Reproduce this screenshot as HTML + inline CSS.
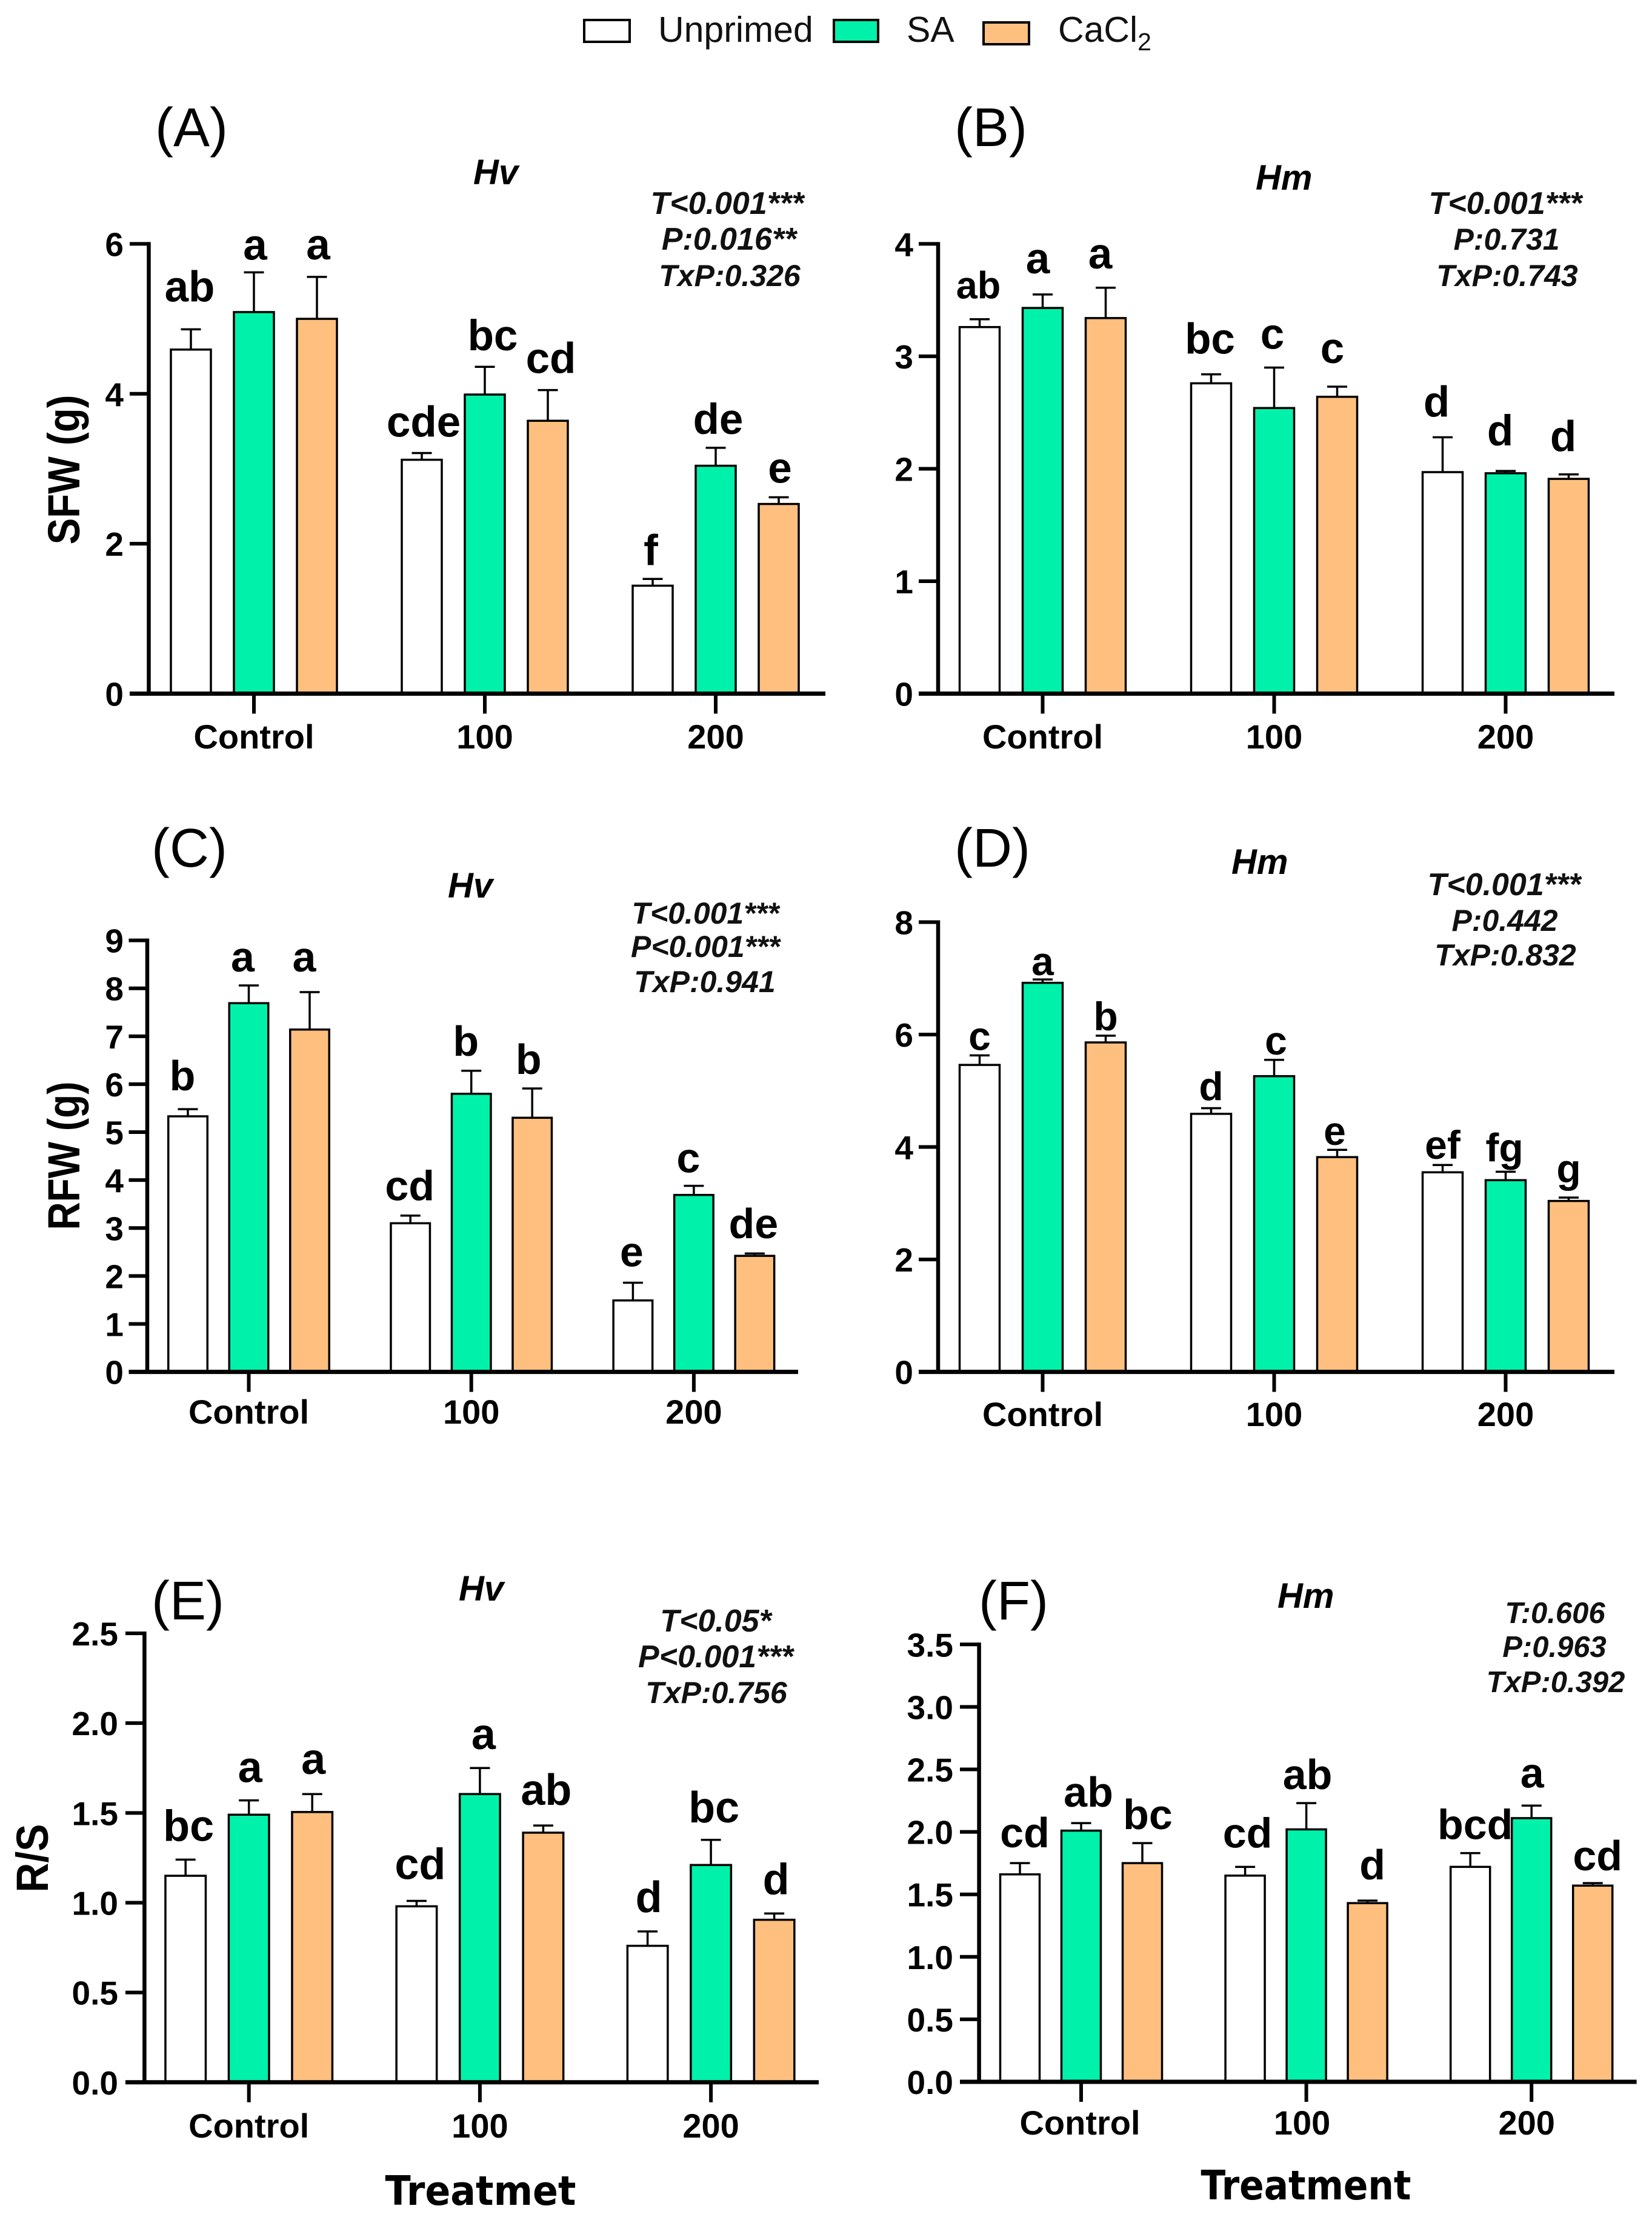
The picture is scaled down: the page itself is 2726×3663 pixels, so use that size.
<!DOCTYPE html>
<html lang="en">
<head>
<meta charset="utf-8">
<title>Shoot and root fresh weight and R/S by treatment and priming</title>
<style>
html,body{margin:0;padding:0;background:#fff;}
svg{display:block;}
text{font-family:"Liberation Sans",Arial,sans-serif;fill:#000;}
.tag{font-size:90px;}
.species{font-size:58px;font-weight:bold;font-style:italic;}
.stat{font-size:50px;font-weight:bold;font-style:italic;text-anchor:middle;fill:#111;}
.stat-wide{font-size:52px;}
.ytitle{font-size:74px;font-weight:bold;}
.xtitle{font-family:"DejaVu Sans","Liberation Sans",sans-serif;font-size:67px;font-weight:bold;text-anchor:middle;}
.legend-text{font-size:59px;fill:#111;}
.tick{font-size:55px;font-weight:bold;}
.cat{font-size:56px;font-weight:bold;text-anchor:middle;}
.letter{font-weight:bold;text-anchor:middle;}
</style>
</head>
<body>
<svg id="chart" xmlns="http://www.w3.org/2000/svg" width="2726" height="3663" viewBox="0 0 2726 3663">
  <rect x="0" y="0" width="2726" height="3663" fill="#fff"/>

  <g>
    <rect x="964" y="33" width="75" height="36" fill="#fff" stroke="#000" stroke-width="4"/>
    <text class="legend-text" x="1086" y="69">Unprimed</text>
    <rect x="1376" y="33" width="73" height="36" fill="#00F2AA" stroke="#000" stroke-width="4"/>
    <text class="legend-text" x="1496" y="69">SA</text>
    <rect x="1623" y="37" width="75" height="36" fill="#FFBF7F" stroke="#000" stroke-width="4"/>
    <text class="legend-text" x="1746" y="69">CaCl<tspan font-size="41" dy="14">2</tspan></text>
  </g>

  <g>
    <text class="tag" x="256" y="241">(A)</text>
    <text class="species" x="781" y="304">Hv</text>
    <text class="stat stat-wide" x="1200" y="353">T&lt;0.001***</text>
    <text class="stat stat-wide" x="1203" y="412">P:0.016**</text>
    <text class="stat" x="1204" y="472">TxP:0.326</text>
    <text class="ytitle" transform="translate(131 775) rotate(-90)" text-anchor="middle" textLength="247" lengthAdjust="spacingAndGlyphs">SFW (g)</text>

    <text class="tag" x="1575" y="241">(B)</text>
    <text class="species" x="2072" y="313">Hm</text>
    <text class="stat stat-wide" x="2484" y="353">T&lt;0.001***</text>
    <text class="stat" x="2486" y="412">P:0.731</text>
    <text class="stat" x="2487" y="472">TxP:0.743</text>

    <text class="tag" x="250" y="1430">(C)</text>
    <text class="species" x="739" y="1481">Hv</text>
    <text class="stat" x="1164" y="1524">T&lt;0.001***</text>
    <text class="stat" x="1164" y="1579">P&lt;0.001***</text>
    <text class="stat" x="1163" y="1637">TxP:0.941</text>
    <text class="ytitle" transform="translate(131 1907) rotate(-90)" text-anchor="middle" textLength="245" lengthAdjust="spacingAndGlyphs">RFW (g)</text>

    <text class="tag" x="1575" y="1430">(D)</text>
    <text class="species" x="2032" y="1442">Hm</text>
    <text class="stat stat-wide" x="2482" y="1477">T&lt;0.001***</text>
    <text class="stat" x="2483" y="1536">P:0.442</text>
    <text class="stat" x="2484" y="1593">TxP:0.832</text>

    <text class="tag" x="250" y="2672">(E)</text>
    <text class="species" x="757" y="2641">Hv</text>
    <text class="stat stat-wide" x="1181" y="2692">T&lt;0.05*</text>
    <text class="stat stat-wide" x="1181" y="2751">P&lt;0.001***</text>
    <text class="stat" x="1182" y="2810">TxP:0.756</text>
    <text class="ytitle" transform="translate(79 3066) rotate(-90)" text-anchor="middle" textLength="113" lengthAdjust="spacingAndGlyphs">R/S</text>
    <text class="xtitle" x="793" y="3638" textLength="315" lengthAdjust="spacingAndGlyphs">Treatmet</text>

    <text class="tag" x="1615" y="2672">(F)</text>
    <text class="species" x="2108" y="2653">Hm</text>
    <text class="stat" style="font-size:49px" x="2566" y="2678">T:0.606</text>
    <text class="stat" style="font-size:49px" x="2565" y="2734">P:0.963</text>
    <text class="stat" style="font-size:49px" x="2567" y="2792">TxP:0.392</text>
    <text class="xtitle" x="2155" y="3629" textLength="347" lengthAdjust="spacingAndGlyphs">Treatment</text>
  </g>
</svg>

<script>
// ---- Chart data ----
const categories = ['Control', '100', '200'];

const panelAUnprimed = [4.59, 3.12, 1.44];
const panelASA = [5.09, 3.99, 3.04];
const panelACaCl2 = [5.00, 3.64, 2.53];
const panelAErrUnprimed = [0.27, 0.09, 0.09];
const panelAErrSA = [0.53, 0.37, 0.24];
const panelAErrCaCl2 = [0.56, 0.41, 0.09];
const panelALetters = ['ab', 'a', 'a', 'cde', 'bc', 'cd', 'f', 'de', 'e'];
const panelATicks = ['0', '2', '4', '6'];

const panelBUnprimed = [3.26, 2.76, 1.97];
const panelBSA = [3.43, 2.54, 1.96];
const panelBCaCl2 = [3.34, 2.64, 1.91];
const panelBErrUnprimed = [0.07, 0.08, 0.31];
const panelBErrSA = [0.12, 0.36, 0.02];
const panelBErrCaCl2 = [0.27, 0.09, 0.04];
const panelBLetters = ['ab', 'a', 'a', 'bc', 'c', 'c', 'd', 'd', 'd'];
const panelBTicks = ['0', '1', '2', '3', '4'];

const panelCUnprimed = [5.33, 3.10, 1.49];
const panelCSA = [7.69, 5.80, 3.69];
const panelCCaCl2 = [7.14, 5.30, 2.42];
const panelCErrUnprimed = [0.15, 0.16, 0.37];
const panelCErrSA = [0.37, 0.48, 0.19];
const panelCErrCaCl2 = [0.78, 0.61, 0.05];
const panelCLetters = ['b', 'a', 'a', 'cd', 'b', 'b', 'e', 'c', 'de'];
const panelCTicks = ['0', '1', '2', '3', '4', '5', '6', '7', '8', '9'];

const panelDUnprimed = [5.46, 4.59, 3.55];
const panelDSA = [6.92, 5.26, 3.41];
const panelDCaCl2 = [5.86, 3.82, 3.04];
const panelDErrUnprimed = [0.17, 0.10, 0.13];
const panelDErrSA = [0.06, 0.29, 0.15];
const panelDErrCaCl2 = [0.12, 0.13, 0.06];
const panelDLetters = ['c', 'a', 'b', 'd', 'c', 'e', 'ef', 'fg', 'g'];
const panelDTicks = ['0', '2', '4', '6', '8'];

const panelEUnprimed = [1.15, 0.98, 0.76];
const panelESA = [1.49, 1.605, 1.21];
const panelECaCl2 = [1.505, 1.39, 0.905];
const panelEErrUnprimed = [0.09, 0.03, 0.08];
const panelEErrSA = [0.08, 0.145, 0.14];
const panelEErrCaCl2 = [0.10, 0.04, 0.035];
const panelELetters = ['bc', 'a', 'a', 'cd', 'a', 'ab', 'd', 'bc', 'd'];
const panelETicks = ['0.0', '0.5', '1.0', '1.5', '2.0', '2.5'];

const panelFUnprimed = [1.66, 1.65, 1.72];
const panelFSA = [2.01, 2.02, 2.11];
const panelFCaCl2 = [1.75, 1.43, 1.57];
const panelFErrUnprimed = [0.09, 0.07, 0.11];
const panelFErrSA = [0.06, 0.21, 0.10];
const panelFErrCaCl2 = [0.16, 0.02, 0.02];
const panelFLetters = ['cd', 'ab', 'bc', 'cd', 'ab', 'd', 'bcd', 'a', 'cd'];
const panelFTicks = ['0.0', '0.5', '1.0', '1.5', '2.0', '2.5', '3.0', '3.5'];

// ---- Layout ----
const SVG_NS = 'http://www.w3.org/2000/svg';
const root = document.getElementById('chart');
const seriesKeys = ['unprimed', 'sa', 'cacl2'];
const seriesFills = ['#ffffff', '#00F2AA', '#FFBF7F'];

const panelLayouts = [
  { id: 'a', means: [panelAUnprimed, panelASA, panelACaCl2], errs: [panelAErrUnprimed, panelAErrSA, panelAErrCaCl2],
    letters: panelALetters, ticks: panelATicks, axisX: 245.5, y0: 1144.5, yTop: 402.4, xStart: 214, xEnd: 1362,
    first: 419, step: 381, offset: 104, barW: 66, tickRight: 204, catBase: 1235, catDx: [0, 0, 0], letterSize: 71,
    nudges: [[-2,46],[2,21],[2,29],[3,27],[13,27],[5,28],[-3,23],[4,23],[2,24]] },
  { id: 'b', means: [panelBUnprimed, panelBSA, panelBCaCl2], errs: [panelBErrUnprimed, panelBErrSA, panelBErrCaCl2],
    letters: panelBLetters, ticks: panelBTicks, axisX: 1548, y0: 1144.5, yTop: 402.4, xStart: 1516, xEnd: 2664,
    first: 1720.5, step: 382, offset: 104, barW: 66, tickRight: 1507, catBase: 1235, catDx: [0, 0, 0], letterSize: 71,
    nudges: [[-2,34],[-8,35],[-9,32],[-2,34],[-3,31],[-8,39],[-10,34],[-9,42],[-9,38]], firstLetterSize: 63 },
  { id: 'c', means: [panelCUnprimed, panelCSA, panelCCaCl2], errs: [panelCErrUnprimed, panelCErrSA, panelCErrCaCl2],
    letters: panelCLetters, ticks: panelCTicks, axisX: 243, y0: 2263.6, yTop: 1551.6, xStart: 212.5, xEnd: 1317,
    first: 410.5, step: 367.2, offset: 100.5, barW: 64.5, tickRight: 204, catBase: 2349, catDx: [0, 0, 0], letterSize: 70,
    nudges: [[-9,31],[-10,23],[-9,34],[-1,25],[-9,25],[-6,24],[-2,27],[-9,22],[-2,25]] },
  { id: 'd', means: [panelDUnprimed, panelDSA, panelDCaCl2], errs: [panelDErrUnprimed, panelDErrSA, panelDErrCaCl2],
    letters: panelDLetters, ticks: panelDTicks, axisX: 1548, y0: 2263.6, yTop: 1521.5, xStart: 1516, xEnd: 2664,
    first: 1720.5, step: 382, offset: 104, barW: 66, tickRight: 1507, catBase: 2353, catDx: [0, 0, 0], letterSize: 66,
    nudges: [[0,9],[0,7],[0,9],[0,13],[3,9],[-4,8],[0,10],[-2,17],[0,25]] },
  { id: 'e', means: [panelEUnprimed, panelESA, panelECaCl2], errs: [panelEErrUnprimed, panelEErrSA, panelEErrCaCl2],
    letters: panelELetters, ticks: panelETicks, axisX: 238.4, y0: 3435.8, yTop: 2695, xStart: 207, xEnd: 1351,
    first: 410.7, step: 381.2, offset: 104.5, barW: 66.5, tickRight: 195, catBase: 3527, catDx: [0, 0, 0], letterSize: 72,
    nudges: [[5,31],[2,30],[2,33],[6,36],[6,31],[5,34],[2,32],[5,29],[3,32]] },
  { id: 'f', means: [panelFUnprimed, panelFSA, panelFCaCl2], errs: [panelFErrUnprimed, panelFErrSA, panelFErrCaCl2],
    letters: panelFLetters, ticks: panelFTicks, axisX: 1615.6, y0: 3435, yTop: 2713.3, xStart: 1584, xEnd: 2700.6,
    first: 1784, step: 371.6, offset: 101, barW: 65, tickRight: 1573, catBase: 3522, catDx: [-2, -7, -8], letterSize: 70,
    nudges: [[8,26],[12,27],[9,23],[4,32],[2,23],[8,35],[8,23],[1,30],[8,21]] }
];

function make(tag, parent) {
  const el = document.createElementNS(SVG_NS, tag);
  parent.appendChild(el);
  return el;
}

function line(parent, x1, y1, x2, y2, width) {
  const el = make('line', parent);
  el.setAttribute('x1', x1);
  el.setAttribute('y1', y1);
  el.setAttribute('x2', x2);
  el.setAttribute('y2', y2);
  el.setAttribute('stroke', '#000');
  el.setAttribute('stroke-width', width);
  return el;
}

function drawPanel(p) {
  const yMax = parseFloat(p.ticks[p.ticks.length - 1]);
  const yScale = v => p.y0 - (v / yMax) * (p.y0 - p.yTop);
  const groupCenter = i => p.first + p.step * i;
  const barCenter = (i, s) => groupCenter(i) + (s - 1) * p.offset;

  const g = make('g', root);
  
  

  categories.forEach((cat, i) => {
    p.means.forEach((series, s) => {
      const v = series[i];
      const top = yScale(v);
      const errTop = yScale(v + p.errs[s][i]);
      const cx = barCenter(i, s);

      const stem = line(g, cx, top, cx, errTop, 3.5);
      
      

      const cap = line(g, cx - 16.5, errTop, cx + 16.5, errTop, 3.5);
      
      

      const bar = make('rect', g);
      bar.setAttribute('x', cx - p.barW / 2);
      bar.setAttribute('y', top);
      bar.setAttribute('width', p.barW);
      bar.setAttribute('height', p.y0 - top);
      bar.setAttribute('fill', seriesFills[s]);
      bar.setAttribute('stroke', '#000');
      bar.setAttribute('stroke-width', 3.5);
      
      

      const idx = i * 3 + s;
      const letter = make('text', g);
      letter.setAttribute('class', 'letter');
      letter.setAttribute('x', cx + p.nudges[idx][0]);
      letter.setAttribute('y', errTop - p.nudges[idx][1]);
      letter.setAttribute('font-size', (idx === 0 && p.firstLetterSize) ? p.firstLetterSize : p.letterSize);
      letter.textContent = p.letters[idx];
      
      
    });
  });

  const yAxis = line(g, p.axisX, p.yTop - 3, p.axisX, p.y0, 6.5);
  
  

  const xAxis = line(g, p.xStart, p.y0, p.xEnd, p.y0, 7);
  
  

  p.ticks.forEach(label => {
    const y = yScale(parseFloat(label));
    const tick = line(g, p.xStart, y, p.axisX, y, 6);
    
    

    const text = make('text', g);
    text.setAttribute('class', 'tick');
    text.setAttribute('x', p.tickRight);
    text.setAttribute('y', y + 20);
    text.setAttribute('text-anchor', 'end');
    text.textContent = label;
    
    
  });

  categories.forEach((cat, i) => {
    const x = groupCenter(i);
    const tick = line(g, x, p.y0, x, p.y0 + 33, 6);
    
    

    const text = make('text', g);
    text.setAttribute('class', 'cat');
    text.setAttribute('x', x + p.catDx[i]);
    text.setAttribute('y', p.catBase);
    text.textContent = cat;
    
    
  });
}

panelLayouts.forEach(drawPanel);
</script>
</body>
</html>
